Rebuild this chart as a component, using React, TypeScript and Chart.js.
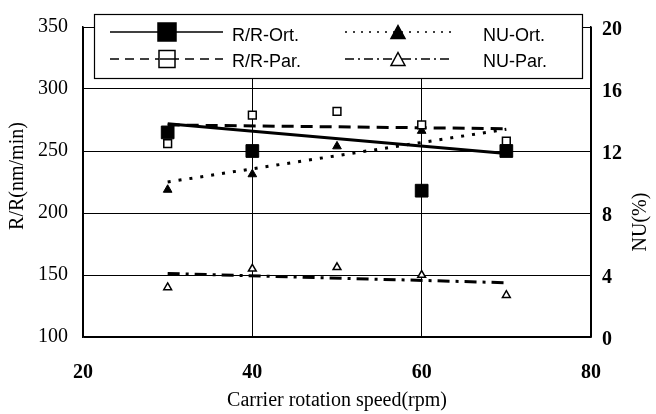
import React, { useEffect, useRef } from "react";
import { Chart, registerables } from "chart.js";

Chart.register(...registerables);

// ---- data ----
const xTickValues = [20, 40, 60, 80];
const rrOrtSpeeds = [30, 40, 60, 70];
const rrOrtValues = [265, 250, 218, 250];
const parSpeeds = [30, 40, 50, 60, 70];
const rrParValues = [256, 279, 282, 271, 258];
const nuOrtValues = [9.5, 10.5, 12.3, 13.3, 12.3];
const nuParValues = [3.2, 4.4, 4.5, 4.0, 2.7];
const trendSpeeds = [30, 70];
const rrOrtTrend = [272, 248];
const rrParTrend = [271, 268];
const nuOrtTrend = [10.0, 13.4];
const nuParTrend = [4.1, 3.5];

const legendLabels = ["R/R-Ort.", "R/R-Par.", "NU-Ort.", "NU-Par."];
const xTitle = "Carrier rotation speed(rpm)";
const yTitle = "R/R(nm/min)";
const y1Title = "NU(%)";

const pts = (xs: number[], ys: number[]) => xs.map((x, i) => ({ x, y: ys[i] }));

const SERIF = "'Liberation Serif', 'Times New Roman', serif";
const SANS = "'Liberation Sans', Arial, sans-serif";

function drawSquare(ctx: CanvasRenderingContext2D, cx: number, cy: number, w: number, h: number, filled: boolean) {
  ctx.save();
  ctx.setLineDash([]);
  ctx.lineWidth = 1.5;
  ctx.strokeStyle = "#000";
  ctx.fillStyle = filled ? "#000" : "#fff";
  ctx.fillRect(cx - w / 2, cy - h / 2, w, h);
  ctx.strokeRect(cx - w / 2, cy - h / 2, w, h);
  ctx.restore();
}

function drawTri(ctx: CanvasRenderingContext2D, cx: number, cy: number, w: number, h: number, filled: boolean) {
  ctx.save();
  ctx.setLineDash([]);
  ctx.lineWidth = 1.5;
  ctx.strokeStyle = "#000";
  ctx.fillStyle = filled ? "#000" : "#fff";
  ctx.beginPath();
  ctx.moveTo(cx, cy - h / 2);
  ctx.lineTo(cx + w / 2, cy + h / 2);
  ctx.lineTo(cx - w / 2, cy + h / 2);
  ctx.closePath();
  ctx.fill();
  ctx.stroke();
  ctx.restore();
}

function drawLegLine(ctx: CanvasRenderingContext2D, x1: number, x2: number, y: number, dash: number[]) {
  ctx.save();
  ctx.strokeStyle = "#000";
  ctx.lineWidth = 1.5;
  ctx.setLineDash(dash);
  ctx.beginPath();
  ctx.moveTo(x1, y);
  ctx.lineTo(x2, y);
  ctx.stroke();
  ctx.restore();
}

const overlayPlugin = {
  id: "overlay",
  beforeDraw(chart: any) {
    const ctx = chart.ctx;
    ctx.save();
    ctx.fillStyle = "#fff";
    ctx.fillRect(0, 0, chart.width, chart.height);
    ctx.restore();
  },
  afterDraw(chart: any) {
    const ctx: CanvasRenderingContext2D = chart.ctx;
    // legend box
    ctx.save();
    ctx.fillStyle = "#fff";
    ctx.fillRect(94, 14, 488, 64);
    ctx.strokeStyle = "#000";
    ctx.lineWidth = 1.2;
    ctx.strokeRect(94.5, 14.5, 488, 64);
    ctx.restore();

    const r1 = 32, r2 = 59;
    drawLegLine(ctx, 110, 223, r1, []);
    drawSquare(ctx, 167, r1, 18, 18, true);
    drawLegLine(ctx, 110, 223, r2, [9, 6]);
    drawSquare(ctx, 167, r2, 16, 17, false);
    drawLegLine(ctx, 160, 175, r2, []);

    drawLegLine(ctx, 345, 453, r1, [2, 6]);
    drawTri(ctx, 398, r1, 14, 13, true);
    drawLegLine(ctx, 345, 453, r2, [9, 4, 2, 4]);
    drawTri(ctx, 398, r2, 14, 13, false);

    ctx.save();
    ctx.fillStyle = "#000";
    ctx.font = `18px ${SANS}`;
    ctx.textAlign = "left";
    ctx.textBaseline = "middle";
    ctx.fillText(legendLabels[0], 232, r1 + 4);
    ctx.fillText(legendLabels[1], 232, r2 + 3);
    ctx.fillText(legendLabels[2], 483, r1 + 4);
    ctx.fillText(legendLabels[3], 483, r2 + 3);
    ctx.restore();

    // axis titles
    ctx.save();
    ctx.fillStyle = "#000";
    ctx.font = `20px ${SERIF}`;
    ctx.textAlign = "center";
    ctx.textBaseline = "middle";
    ctx.fillText(xTitle, 337, 401);
    ctx.translate(18, 176);
    ctx.rotate(-Math.PI / 2);
    ctx.fillText(yTitle, 0, 0);
    ctx.restore();
    ctx.save();
    ctx.fillStyle = "#000";
    ctx.font = `20px ${SERIF}`;
    ctx.textAlign = "center";
    ctx.textBaseline = "middle";
    ctx.translate(641, 222);
    ctx.rotate(-Math.PI / 2);
    ctx.fillText(y1Title, 0, 0);
    ctx.restore();
  },
};

export default function App() {
  const ref = useRef<HTMLCanvasElement | null>(null);
  useEffect(() => {
    if (!ref.current) return;
    const chart = new Chart(ref.current, {
      type: "scatter",
      data: {
        datasets: [
          {
            label: legendLabels[0],
            data: pts(rrOrtSpeeds, rrOrtValues),
            yAxisID: "y",
            showLine: false,
            pointStyle: "rect",
            pointRadius: 9,
            backgroundColor: "#000",
            borderColor: "#000",
            borderWidth: 1,
          },
          {
            label: legendLabels[1],
            data: pts(parSpeeds, rrParValues),
            yAxisID: "y",
            showLine: false,
            pointStyle: "rect",
            pointRadius: 5.5,
            backgroundColor: "#fff",
            borderColor: "#000",
            borderWidth: 1.5,
          },
          {
            label: legendLabels[2],
            data: pts(parSpeeds, nuOrtValues),
            yAxisID: "y1",
            showLine: false,
            pointStyle: "triangle",
            pointRadius: 5,
            backgroundColor: "#000",
            borderColor: "#000",
            borderWidth: 1,
          },
          {
            label: legendLabels[3],
            data: pts(parSpeeds, nuParValues),
            yAxisID: "y1",
            showLine: false,
            pointStyle: "triangle",
            pointRadius: 4.5,
            backgroundColor: "#fff",
            borderColor: "#000",
            borderWidth: 1.5,
          },
          {
            label: "rrOrtTrend",
            data: pts(trendSpeeds, rrOrtTrend),
            yAxisID: "y",
            showLine: true,
            pointRadius: 0,
            borderColor: "#000",
            borderWidth: 3,
          },
          {
            label: "rrParTrend",
            data: pts(trendSpeeds, rrParTrend),
            yAxisID: "y",
            showLine: true,
            pointRadius: 0,
            borderColor: "#000",
            borderWidth: 3,
            borderDash: [12, 7],
          },
          {
            label: "nuOrtTrend",
            data: pts(trendSpeeds, nuOrtTrend),
            yAxisID: "y1",
            showLine: true,
            pointRadius: 0,
            borderColor: "#000",
            borderWidth: 3,
            borderDash: [3, 8],
          },
          {
            label: "nuParTrend",
            data: pts(trendSpeeds, nuParTrend),
            yAxisID: "y1",
            showLine: true,
            pointRadius: 0,
            borderColor: "#000",
            borderWidth: 3,
            borderDash: [12, 6, 3, 6],
          },
        ],
      },
      options: {
        responsive: false,
        animation: false,
        devicePixelRatio: 1,
        layout: { padding: { top: 17, left: 0, right: 0, bottom: 0 } },
        plugins: { legend: { display: false }, tooltip: { enabled: false }, title: { display: false } },
        scales: {
          x: {
            type: "linear",
            min: 20,
            max: 80,
            afterBuildTicks: (s: any) => {
              s.ticks = xTickValues.map((v) => ({ value: v }));
            },
            afterFit: (s: any) => {
              s.height = 77;
            },
            ticks: {
              color: "#000",
              padding: 24,
              font: { family: SERIF, size: 20, weight: "bold" },
            },
            grid: { color: "#000", lineWidth: 1, drawTicks: false },
            border: { display: true, color: "#000", width: 1.5 },
          },
          y: {
            position: "left",
            min: 100,
            max: 350,
            afterFit: (s: any) => {
              s.width = 83;
            },
            ticks: {
              stepSize: 50,
              color: "#000",
              padding: 15,
              font: { family: SERIF, size: 20 },
            },
            grid: { color: "#000", lineWidth: 1, drawTicks: false },
            border: { display: true, color: "#000", width: 1.5 },
          },
          y1: {
            position: "right",
            min: 0,
            max: 20,
            afterFit: (s: any) => {
              s.width = 65;
            },
            ticks: {
              stepSize: 4,
              color: "#000",
              padding: 11,
              labelOffset: 3,
              font: { family: SERIF, size: 20, weight: "bold" },
            },
            grid: { drawOnChartArea: false, drawTicks: false },
            border: { display: true, color: "#000", width: 1.5 },
          },
        },
      },
      plugins: [overlayPlugin],
    } as any);
    return () => chart.destroy();
  }, []);

  return (
    <div style={{ position: "absolute", left: 0, top: 0, width: 656, height: 414, background: "#fff" }}>
      <canvas ref={ref} width={656} height={414} style={{ display: "block" }} />
    </div>
  );
}
